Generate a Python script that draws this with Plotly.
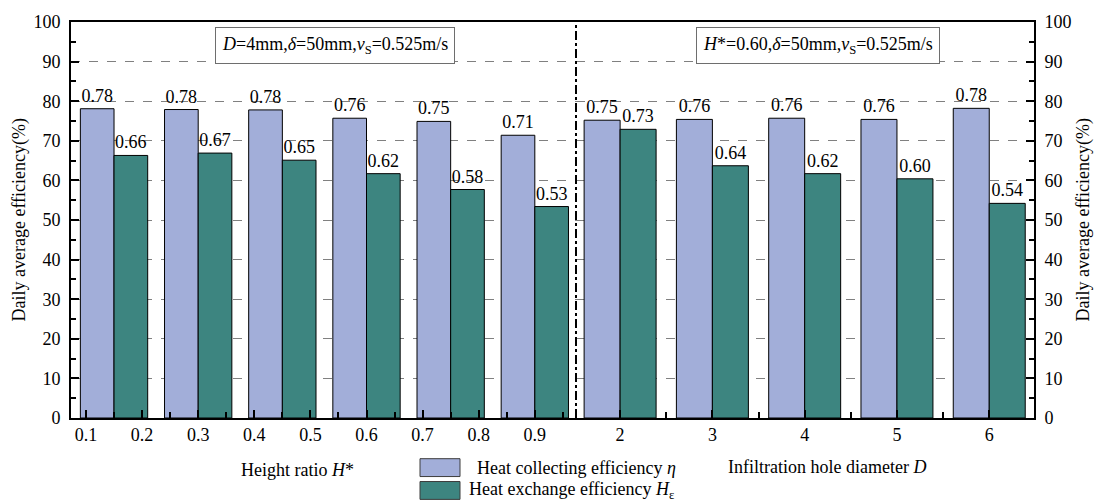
import plotly.graph_objects as go

# ---------------- data ----------------
H_ratio = [0.15, 0.30, 0.45, 0.60, 0.75, 0.90]
eta_H = [78.1, 77.9, 77.8, 75.7, 74.9, 71.4]
he_H = [66.3, 66.9, 65.1, 61.7, 57.7, 53.4]
eta_H_labels = ["0.78", "0.78", "0.78", "0.76", "0.75", "0.71"]
he_H_labels = ["0.66", "0.67", "0.65", "0.62", "0.58", "0.53"]

D_vals = [2, 3, 4, 5, 6]
eta_D = [75.2, 75.4, 75.7, 75.4, 78.2]
he_D = [72.9, 63.7, 61.7, 60.4, 54.2]
eta_D_labels = ["0.75", "0.76", "0.76", "0.76", "0.78"]
he_D_labels = ["0.73", "0.64", "0.62", "0.60", "0.54"]

x1_ticks = [0.1, 0.2, 0.3, 0.4, 0.5, 0.6, 0.7, 0.8, 0.9]
x2_ticks = [2, 3, 4, 5, 6]
y_ticks = [0, 10, 20, 30, 40, 50, 60, 70, 80, 90, 100]

# ---------------- style ----------------
W, H = 1095, 504
L, R, T, B = 71, 1034, 19, 418
BLUE = "rgb(162,174,217)"
GREEN = "rgb(61,133,128)"
FONT = "Liberation Serif, Times New Roman, serif"
FS = 18
split = (576 - L) / (R - L)


def px(xp):
    return (xp - L) / (R - L)


def py(yp):
    return (B - yp) / (B - T)


w1 = 0.06
w2 = 0.39

fig = go.Figure()
bar_line = dict(color="black", width=1)
txt_font = dict(family=FONT, size=FS, color="black")

fig.add_trace(go.Bar(x=H_ratio, y=eta_H, width=w1, offset=-w1, marker=dict(color=BLUE, line=bar_line),
                     text=eta_H_labels, textposition="outside", textfont=txt_font, cliponaxis=False,
                     xaxis="x", yaxis="y", showlegend=False, name="Heat collecting efficiency"))
fig.add_trace(go.Bar(x=H_ratio, y=he_H, width=w1, offset=0, marker=dict(color=GREEN, line=bar_line),
                     text=he_H_labels, textposition="outside", textfont=txt_font, cliponaxis=False,
                     xaxis="x", yaxis="y", showlegend=False, name="Heat exchange efficiency"))
fig.add_trace(go.Bar(x=D_vals, y=eta_D, width=w2, offset=-w2, marker=dict(color=BLUE, line=bar_line),
                     text=eta_D_labels, textposition="outside", textfont=txt_font, cliponaxis=False,
                     xaxis="x2", yaxis="y2", showlegend=False, name="Heat collecting efficiency"))
fig.add_trace(go.Bar(x=D_vals, y=he_D, width=w2, offset=0, marker=dict(color=GREEN, line=bar_line),
                     text=he_D_labels, textposition="outside", textfont=txt_font, cliponaxis=False,
                     xaxis="x2", yaxis="y2", showlegend=False, name="Heat exchange efficiency"))

axfont = dict(family=FONT, size=FS, color="black")
common_x = dict(showline=True, linecolor="black", linewidth=2, mirror=True, ticks="inside",
                ticklen=8, tickwidth=1.5, tickcolor="black", showgrid=False, zeroline=False,
                tickfont=axfont, ticklabelstandoff=-1)
common_y = dict(range=[0, 100], tickvals=y_ticks, showline=True, linecolor="black", linewidth=2,
                ticks="inside", ticklen=8, tickwidth=1.5, tickcolor="black",
                minor=dict(dtick=5, ticks="inside", ticklen=5, tickwidth=1.5, tickcolor="black", showgrid=False),
                showgrid=True, gridcolor="rgb(128,128,128)", griddash="dash", gridwidth=1,
                zeroline=False, tickfont=axfont, ticklabelstandoff=5)

fig.update_layout(
    width=W, height=H,
    margin=dict(l=L, r=W - R, t=T, b=H - B),
    paper_bgcolor="white", plot_bgcolor="white",
    barmode="overlay",
    font=dict(family=FONT, size=FS, color="black"),
    xaxis=dict(domain=[0, split], range=[0.0733, 0.9734], tickvals=x1_ticks,
               ticktext=[f"{v:.1f}" for v in x1_ticks],
               minor=dict(dtick=0.05, tick0=0.05, ticks="inside", ticklen=6, tickwidth=1.5, tickcolor="black"),
               anchor="y", **common_x),
    xaxis2=dict(domain=[split, 1], range=[1.522, 6.485], tickvals=x2_ticks,
                minor=dict(dtick=0.5, tick0=0.5, ticks="inside", ticklen=6, tickwidth=1.5, tickcolor="black"),
                anchor="y2", **common_x),
    yaxis=dict(domain=[0, 1], anchor="x", side="left", **common_y),
    yaxis2=dict(domain=[0, 1], anchor="x2", side="right", **common_y),
)

# divider line
fig.add_shape(type="line", xref="paper", yref="paper", x0=split, x1=split, y0=0, y1=1,
              line=dict(color="black", width=2, dash="dashdot"))

# condition boxes
box_font = dict(family=FONT, size=FS, color="black")
fig.add_annotation(xref="paper", yref="paper", x=px(335), y=py(43), xanchor="center", yanchor="middle",
                   text="<i>D</i>=4mm,<i>δ</i>=50mm,<i>v</i><sub>S</sub>=0.525m/s", showarrow=False,
                   font=box_font, bordercolor="rgb(110,110,110)", borderwidth=1, borderpad=6, bgcolor="white")
fig.add_annotation(xref="paper", yref="paper", x=px(818), y=py(43), xanchor="center", yanchor="middle",
                   text="<i>H</i>*=0.60,<i>δ</i>=50mm,<i>v</i><sub>S</sub>=0.525m/s", showarrow=False,
                   font=box_font, bordercolor="rgb(110,110,110)", borderwidth=1, borderpad=6, bgcolor="white")

# axis titles
fig.add_annotation(xref="paper", yref="paper", x=px(297), y=py(470), xanchor="center", yanchor="middle",
                   text="Height ratio <i>H</i>*", showarrow=False, font=box_font)
fig.add_annotation(xref="paper", yref="paper", x=px(827), y=py(467), xanchor="center", yanchor="middle",
                   text="Infiltration hole diameter <i>D</i>", showarrow=False, font=box_font)
fig.add_annotation(xref="paper", yref="paper", x=px(20), y=py(218), xanchor="center", yanchor="middle",
                   text="Daily average efficiency(%)", textangle=-90, showarrow=False, font=box_font)
fig.add_annotation(xref="paper", yref="paper", x=px(1084), y=py(218), xanchor="center", yanchor="middle",
                   text="Daily average efficiency(%)", textangle=-90, showarrow=False, font=box_font)

# legend (manual)
fig.add_shape(type="rect", xref="paper", yref="paper", x0=px(420), x1=px(460), y0=py(459), y1=py(477),
              fillcolor=BLUE, line=dict(color="rgb(60,60,60)", width=1))
fig.add_shape(type="rect", xref="paper", yref="paper", x0=px(420), x1=px(460), y0=py(482), y1=py(500),
              fillcolor=GREEN, line=dict(color="rgb(60,60,60)", width=1))
fig.add_annotation(xref="paper", yref="paper", x=px(475), y=py(468), xanchor="left", yanchor="middle",
                   text="Heat collecting efficiency <i>η</i>", showarrow=False, font=box_font)
fig.add_annotation(xref="paper", yref="paper", x=px(467), y=py(491), xanchor="left", yanchor="middle",
                   text="Heat exchange efficiency <i>H</i><sub>ε</sub>", showarrow=False, font=box_font)

fig.write_html("out.html")
